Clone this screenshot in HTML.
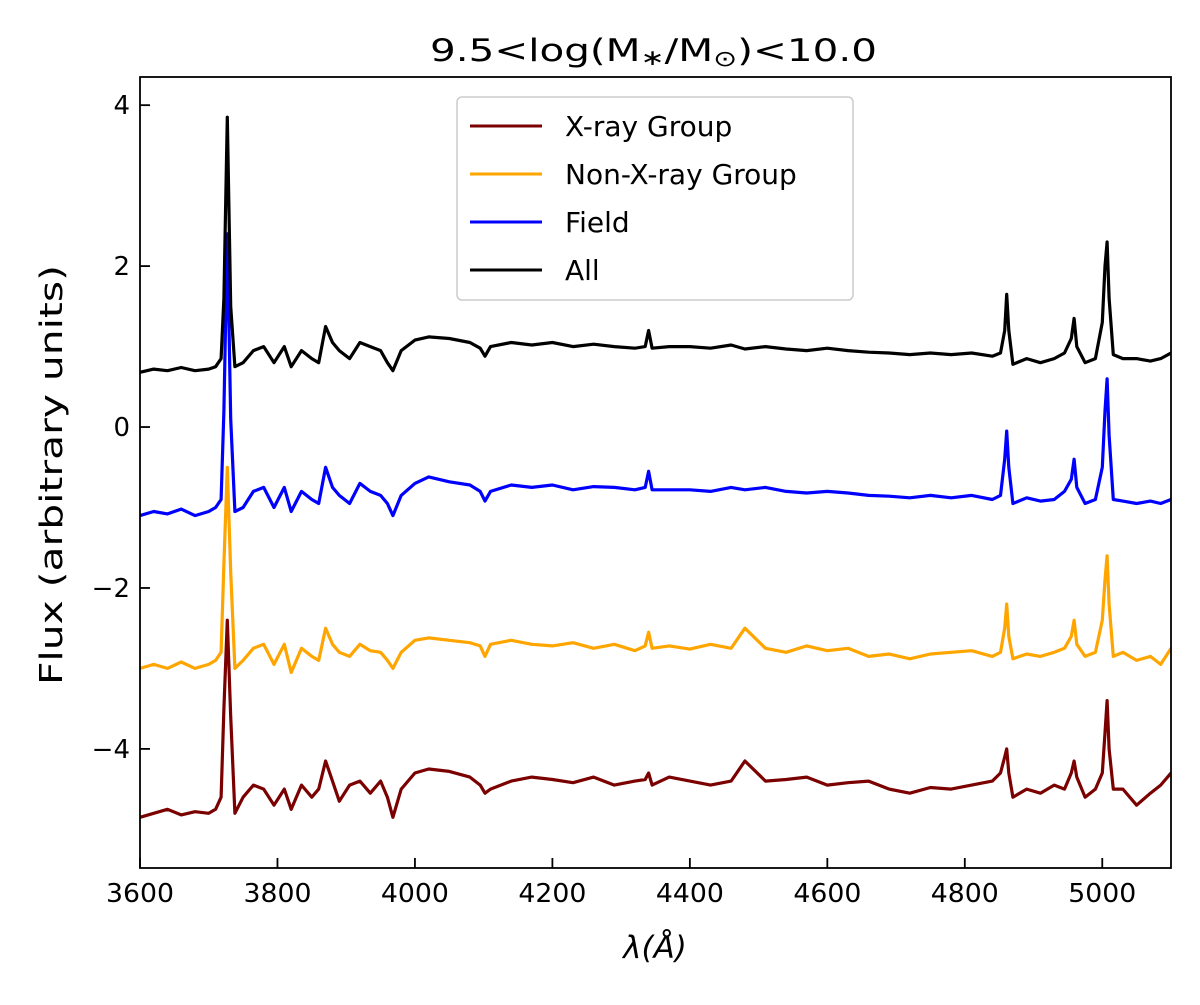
<!DOCTYPE html>
<html><head><meta charset="utf-8"><style>
html,body{margin:0;padding:0;background:#fff;}
svg text{font-family:"DejaVu Sans","Liberation Sans",sans-serif;fill:#000;}
</style></head><body>
<svg id="chart" width="1200" height="1000" xmlns="http://www.w3.org/2000/svg">
<g id="series"></g>
<g id="axes"></g>
</svg>
<script>
const wl=[3600,3620,3640,3660,3680,3700,3710,3718,3722,3727,3732,3738,3750,3765,3780,3795,3810,3820,3835,3850,3860,3870,3880,3890,3905,3920,3935,3950,3960,3968,3980,4000,4020,4050,4080,4095,4102,4110,4140,4170,4200,4230,4260,4290,4320,4335,4340,4345,4370,4400,4430,4460,4480,4510,4540,4570,4600,4630,4660,4690,4720,4750,4780,4810,4840,4852,4858,4861,4864,4870,4890,4910,4930,4945,4955,4959,4963,4975,4990,5000,5004,5007,5010,5016,5030,5050,5070,5085,5100];
const fluxAll=[.68,.72,.70,.74,.70,.72,.75,.85,1.6,3.85,1.5,.75,.80,.95,1.0,.80,1.0,.75,.95,.85,.80,1.25,1.05,.95,.85,1.05,1.0,.95,.80,.70,.95,1.08,1.12,1.10,1.05,.98,.88,1.0,1.05,1.02,1.05,1.0,1.03,1.0,.98,1.0,1.2,.98,1.0,1.0,.98,1.02,.97,1.0,.97,.95,.98,.95,.93,.92,.90,.92,.90,.92,.88,.92,1.2,1.65,1.2,.78,.85,.80,.85,.92,1.1,1.35,1.0,.80,.85,1.3,2.0,2.3,1.6,.9,.85,.85,.82,.85,.92];
const fluxField=[-1.1,-1.05,-1.08,-1.02,-1.1,-1.05,-1.0,-.9,0.2,2.4,0.1,-1.05,-1.0,-.8,-.75,-1.0,-.75,-1.05,-.8,-.9,-.95,-.5,-.75,-.85,-.95,-.7,-.8,-.85,-.95,-1.1,-.85,-.7,-.62,-.68,-.72,-.8,-.92,-.8,-.72,-.75,-.72,-.78,-.74,-.75,-.78,-.75,-.55,-.78,-.78,-.78,-.8,-.75,-.78,-.75,-.8,-.82,-.8,-.82,-.85,-.86,-.88,-.85,-.88,-.85,-.9,-.85,-.4,-.05,-.5,-.95,-.88,-.92,-.9,-.8,-.65,-.4,-.75,-.95,-.9,-.5,0.2,0.6,-.1,-.9,-.92,-.95,-.92,-.95,-.9];
const fluxNonX=[-3.0,-2.95,-3.0,-2.92,-3.0,-2.95,-2.9,-2.8,-1.7,-0.5,-1.8,-3.0,-2.9,-2.75,-2.7,-2.95,-2.7,-3.05,-2.75,-2.85,-2.9,-2.5,-2.7,-2.8,-2.85,-2.7,-2.78,-2.8,-2.9,-3.0,-2.8,-2.65,-2.62,-2.65,-2.68,-2.72,-2.85,-2.7,-2.65,-2.7,-2.72,-2.68,-2.75,-2.7,-2.78,-2.72,-2.55,-2.75,-2.72,-2.76,-2.7,-2.75,-2.5,-2.75,-2.8,-2.72,-2.78,-2.75,-2.85,-2.82,-2.88,-2.82,-2.8,-2.78,-2.85,-2.8,-2.5,-2.2,-2.6,-2.88,-2.82,-2.85,-2.8,-2.75,-2.6,-2.4,-2.7,-2.85,-2.8,-2.4,-1.9,-1.6,-2.2,-2.85,-2.8,-2.9,-2.85,-2.95,-2.75];
const fluxXray=[-4.85,-4.8,-4.75,-4.82,-4.78,-4.8,-4.75,-4.6,-3.5,-2.4,-3.6,-4.8,-4.6,-4.45,-4.5,-4.7,-4.5,-4.75,-4.45,-4.6,-4.5,-4.15,-4.4,-4.65,-4.45,-4.4,-4.55,-4.4,-4.6,-4.85,-4.5,-4.3,-4.25,-4.28,-4.35,-4.45,-4.55,-4.5,-4.4,-4.35,-4.38,-4.42,-4.35,-4.45,-4.4,-4.38,-4.3,-4.45,-4.35,-4.4,-4.45,-4.4,-4.15,-4.4,-4.38,-4.35,-4.45,-4.42,-4.4,-4.5,-4.55,-4.48,-4.5,-4.45,-4.4,-4.3,-4.1,-4.0,-4.3,-4.6,-4.5,-4.55,-4.45,-4.5,-4.3,-4.15,-4.35,-4.6,-4.5,-4.3,-3.8,-3.4,-4.0,-4.5,-4.5,-4.7,-4.55,-4.45,-4.3];
const xTicks=[3600,3800,4000,4200,4400,4600,4800,5000];
const yTicks=[4,2,0,-2,-4];
const yTickLabels=["4","2","0","\u22122","\u22124"];
const seriesNames=["X-ray Group","Non-X-ray Group","Field","All"];

const L=140,R=1171,T=77,B=868;
const xMin=3600,xMax=5100,yMin=-5.48,yMax=4.35;
const xs=v=>L+(v-xMin)/(xMax-xMin)*(R-L);
const ys=v=>B-(v-yMin)/(yMax-yMin)*(B-T);
const NS="http://www.w3.org/2000/svg";
function mk(tag,attrs,parent){const e=document.createElementNS(NS,tag);for(const k in attrs)e.setAttribute(k,attrs[k]);parent.appendChild(e);return e;}
const sg=document.getElementById('series'), ag=document.getElementById('axes');
const defs=mk('defs',{},sg);const cp=mk('clipPath',{id:'clip'},defs);mk('rect',{x:L,y:T,width:R-L,height:B-T},cp);
const data=[[fluxXray,'#7b0000','x-ray-group-line'],[fluxNonX,'#ffa500','non-x-ray-group-line'],[fluxField,'#0000ff','field-line'],[fluxAll,'#000000','all-line']];
data.forEach(([arr,col,name])=>{
  const p=mk('path',{d:arr.map((v,i)=>(i?'L':'M')+xs(wl[i]).toFixed(1)+','+ys(v).toFixed(1)).join(''),fill:'none',stroke:col,'stroke-width':3.2,'stroke-linejoin':'round','clip-path':'url(#clip)'},sg);
  
  
});
const fr=mk('rect',{x:L,y:T,width:R-L,height:B-T,fill:'none',stroke:'#000','stroke-width':1.8},ag);


xTicks.forEach(v=>{
  const x=xs(v);
  mk('line',{x1:x,x2:x,y1:B,y2:B-10,stroke:'#000','stroke-width':1.8},ag);
  const t=mk('text',{x:x,y:B+34,'font-size':26,'text-anchor':'middle',textLength:68,lengthAdjust:'spacingAndGlyphs'},ag);t.textContent=v;
  
  
});
yTicks.forEach((v,i)=>{
  const y=ys(v);
  mk('line',{x1:L,x2:L+10,y1:y,y2:y,stroke:'#000','stroke-width':1.8},ag);
  const t=mk('text',{x:L-10,y:y+9,'font-size':26,'text-anchor':'end'},ag);t.textContent=yTickLabels[i];
  
  
});
const title=mk('text',{x:430,y:61,'font-size':31,textLength:447,lengthAdjust:'spacingAndGlyphs'},ag);
title.innerHTML='9.5&lt;log(M<tspan font-size="22" dy="4">\u2217</tspan><tspan dy="-4">/M</tspan><tspan font-size="22" dy="5">\u2299</tspan><tspan dy="-5">)&lt;10.0</tspan>';


const xl=mk('text',{x:655,y:958,'font-size':31,'text-anchor':'middle','font-style':'italic'},ag);xl.textContent='\u03bb(\u00c5)';


const yl=mk('text',{x:0,y:0,'font-size':31,'text-anchor':'middle',textLength:420,lengthAdjust:'spacingAndGlyphs',transform:'translate(62,475) rotate(-90)'},ag);yl.textContent='Flux (arbitrary units)';


const lg=mk('g',{},ag);


mk('rect',{x:457,y:97,width:396,height:203,rx:5,fill:'#fff',stroke:'#ccc','stroke-width':1.5},lg);
const lcols=['#7b0000','#ffa500','#0000ff','#000000'];
seriesNames.forEach((n,i)=>{
  const y=126+i*48;
  const e=mk('g',{},lg);
  
  
  mk('line',{x1:470,x2:542,y1:y,y2:y,stroke:lcols[i],'stroke-width':3},e);
  const t=mk('text',{x:565,y:y+10,'font-size':28},e);t.textContent=n;
});
</script>
</body></html>
